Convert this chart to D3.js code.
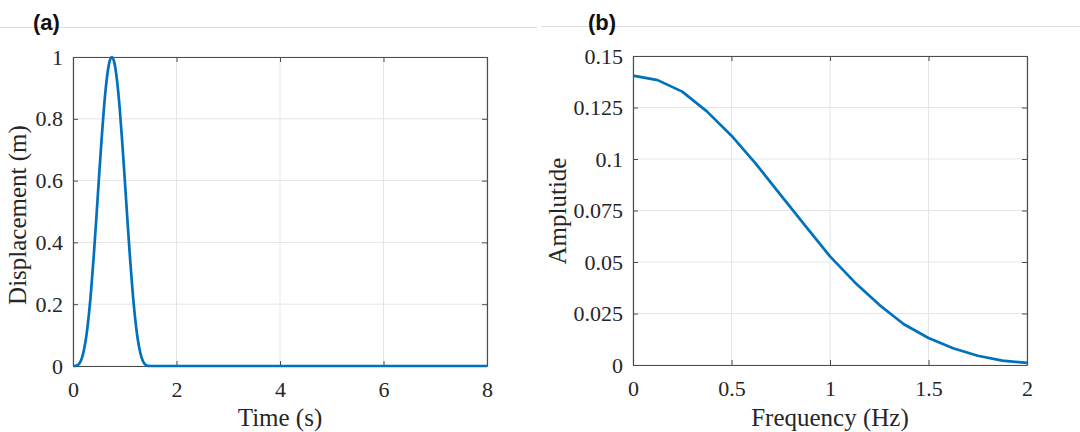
<!DOCTYPE html>
<html>
<head>
<meta charset="utf-8">
<script src="https://cdn.jsdelivr.net/npm/d3@7"></script>
<style>
  body { margin: 0; background: #fff; }
  svg { display: block; }
</style>
</head>
<body>
<svg id="chart" width="1080" height="432"></svg>
<script>
// panel (a): displacement pulse
var timeS = [0, 0.05, 0.1, 0.15, 0.2, 0.25, 0.3, 0.35, 0.4, 0.45, 0.5, 0.55, 0.6, 0.65, 0.7, 0.75,
  0.8, 0.85, 0.9, 0.95, 1.0, 1.05, 1.1, 1.15, 1.2, 1.25, 1.3, 1.35, 1.4, 1.45, 1.5, 2, 4, 6, 8];
var displacement = [0, 0.0004, 0.004, 0.016, 0.043, 0.088, 0.156, 0.245, 0.354, 0.476, 0.605, 0.728, 0.839, 0.925, 0.981, 1,
  0.981, 0.925, 0.839, 0.728, 0.605, 0.476, 0.354, 0.245, 0.156, 0.088, 0.043, 0.016, 0.004, 0.0004, 0, 0, 0, 0, 0];
var timeTicks = [0, 2, 4, 6, 8];
var dispTicks = [0, 0.2, 0.4, 0.6, 0.8, 1];

// panel (b): amplitude spectrum
var freqHz = [0, 0.125, 0.25, 0.375, 0.5, 0.625, 0.75, 0.875, 1.0, 1.125, 1.25, 1.375, 1.5, 1.625, 1.75, 1.875, 2.0];
var amplitude = [0.1405, 0.1383, 0.1327, 0.1231, 0.1113, 0.0975, 0.0825, 0.0675, 0.0527, 0.0402, 0.0292, 0.0198, 0.0131, 0.0081, 0.0045, 0.0021, 0.001];
var freqTicks = [0, 0.5, 1, 1.5, 2];
var ampTicks = [0, 0.025, 0.05, 0.075, 0.1, 0.125, 0.15];

var svg = d3.select("#chart");
var serif = "'Liberation Serif', 'Times New Roman', serif";
var lineBlue = "#0072BD";
var axisGray = "#4d4d4d";
var textDark = "#262626";

// faint separator lines at the top
svg.append("line").attr("x1", 0).attr("x2", 537).attr("y1", 27.5).attr("y2", 27.5)
  .attr("stroke", "#dcdcdc").attr("stroke-width", 1);
svg.append("line").attr("x1", 541).attr("x2", 1080).attr("y1", 26.5).attr("y2", 26.5)
  .attr("stroke", "#dcdcdc").attr("stroke-width", 1);

function drawPanel(opt) {
  var g = svg.append("g");
  var x = d3.scaleLinear().domain(opt.xDomain).range([opt.left, opt.right]);
  var y = d3.scaleLinear().domain(opt.yDomain).range([opt.bottom, opt.top]);

  // grid
  g.append("g").selectAll("line.vx").data(opt.xTicks).enter().append("line")
    .attr("x1", d => x(d)).attr("x2", d => x(d))
    .attr("y1", opt.top).attr("y2", opt.bottom)
    .attr("stroke", "#e5e5e5").attr("stroke-width", 1);
  g.append("g").selectAll("line.hy").data(opt.yTicks).enter().append("line")
    .attr("x1", opt.left).attr("x2", opt.right)
    .attr("y1", d => y(d)).attr("y2", d => y(d))
    .attr("stroke", "#e5e5e5").attr("stroke-width", 1);

  // axes, ticks pointing inward on all four sides
  var tl = 5;
  var bottomAx = g.append("g").attr("transform", "translate(0," + opt.bottom + ")")
    .call(d3.axisBottom(x).tickValues(opt.xTicks).tickSizeInner(-tl).tickSizeOuter(0).tickPadding(15).tickFormat(d3.format("~g")));
  var topAx = g.append("g").attr("transform", "translate(0," + opt.top + ")")
    .call(d3.axisTop(x).tickValues(opt.xTicks).tickSizeInner(-tl).tickSizeOuter(0).tickFormat(""));
  var leftAx = g.append("g").attr("transform", "translate(" + opt.left + ",0)")
    .call(d3.axisLeft(y).tickValues(opt.yTicks).tickSizeInner(-tl).tickSizeOuter(0).tickPadding(10).tickFormat(d3.format("~g")));
  var rightAx = g.append("g").attr("transform", "translate(" + opt.right + ",0)")
    .call(d3.axisRight(y).tickValues(opt.yTicks).tickSizeInner(-tl).tickSizeOuter(0).tickFormat(""));

  [bottomAx, topAx, leftAx, rightAx].forEach(function (a) {
    a.attr("font-family", null).attr("font-size", null);
    a.select(".domain").attr("stroke", axisGray).attr("stroke-width", 1.2);
    a.selectAll(".tick line").attr("stroke", axisGray).attr("stroke-width", 1);
    a.selectAll("text").style("font-family", serif).style("font-size", "22px").attr("fill", textDark);
  });

  // the data line
  var pts = opt.xs.map((v, i) => [v, opt.ys[i]]);
  g.append("path")
    .datum(pts)
    .attr("fill", "none")
    .attr("stroke", lineBlue)
    .attr("stroke-width", 2.7)
    .attr("stroke-linejoin", "round")
    .attr("d", d3.line().x(d => x(d[0])).y(d => y(d[1])).curve(opt.curve));

  // axis titles
  g.append("text")
    .attr("x", (opt.left + opt.right) / 2).attr("y", 426)
    .attr("text-anchor", "middle")
    .style("font-family", serif).style("font-size", "25px").attr("fill", textDark)
    .text(opt.xLabel);
  g.append("text")
    .attr("transform", "translate(" + opt.yLabelX + "," + opt.yLabelY + ") rotate(-90)")
    .attr("text-anchor", "middle")
    .style("font-family", serif).style("font-size", "25px").attr("fill", textDark)
    .text(opt.yLabel);

  // panel letter
  g.append("text")
    .attr("x", opt.tagX).attr("y", 30)
    .style("font-family", "'Liberation Sans', Arial, sans-serif")
    .attr("font-weight", "bold").style("font-size", "22px").attr("fill", "#111")
    .text(opt.tag);
}

drawPanel({
  left: 73, right: 487, top: 57, bottom: 366,
  xDomain: [0, 8], yDomain: [0, 1],
  xTicks: timeTicks, yTicks: dispTicks,
  xs: timeS, ys: displacement, curve: d3.curveMonotoneX,
  xLabel: "Time (s)", yLabel: "Displacement (m)", yLabelX: 26, yLabelY: 215,
  tag: "(a)", tagX: 33
});

drawPanel({
  left: 633, right: 1027, top: 56, bottom: 365,
  xDomain: [0, 2], yDomain: [0, 0.15],
  xTicks: freqTicks, yTicks: ampTicks,
  xs: freqHz, ys: amplitude, curve: d3.curveLinear,
  xLabel: "Frequency (Hz)", yLabel: "Amplutide", yLabelX: 566, yLabelY: 211,
  tag: "(b)", tagX: 588
});
</script>
</body>
</html>
